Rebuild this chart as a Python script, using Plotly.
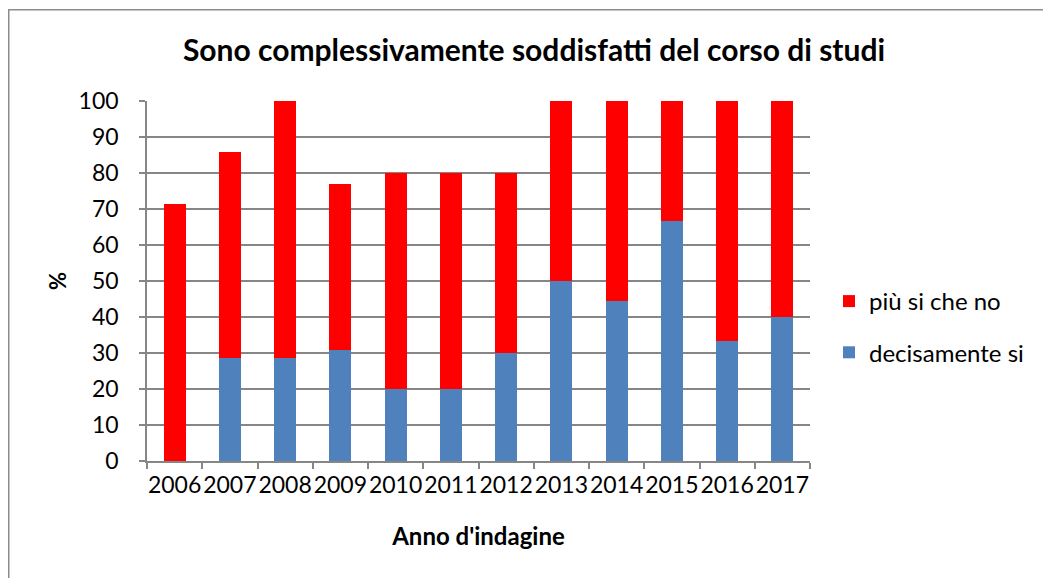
import plotly.graph_objects as go

# data
anni = ["2006", "2007", "2008", "2009", "2010", "2011", "2012",
        "2013", "2014", "2015", "2016", "2017"]
decisamente_si = [0, 28.6, 28.6, 30.8, 20, 20, 30, 50, 44.4, 66.7, 33.3, 40]
piu_si_che_no = [71.4, 57.1, 71.4, 46.2, 60, 60, 50, 50, 55.6, 33.3, 66.7, 60]

# page body has an 8px margin, so figure px = screen px - 8
OFF = 8
W, H = 1051 - OFF, 578 - OFF
L, R, T, B = 147 - OFF, 810 - OFF, 101 - OFF, 461 - OFF  # plot area

fig = go.Figure()
fig.add_trace(go.Bar(x=anni, y=decisamente_si, name="decisamente si",
                     legendgroup="b", legendrank=2,
                     marker=dict(color="#4F81BD", line=dict(width=0))))
fig.add_trace(go.Bar(x=anni, y=piu_si_che_no, name="più si che no",
                     legendgroup="a", legendrank=1,
                     marker=dict(color="#FF0000", line=dict(width=0))))


def px_x(p):
    return (p - OFF - L) / (R - L)


def px_y(p):
    return (B - (p - OFF)) / (B - T)


# outer chart border (only top and left visible in the reference)
fig.add_shape(type="rect", xref="paper", yref="paper",
              x0=px_x(8.75), x1=px_x(1100), y0=px_y(650), y1=px_y(9.75),
              line=dict(color="#8c8c8c", width=1.5), layer="below")

fig.update_layout(
    width=W, height=H,
    margin=dict(l=L, r=W - R, t=T, b=H - B, pad=0),
    barmode="stack", bargap=0.6,
    paper_bgcolor="white", plot_bgcolor="white",
    font=dict(family="Lato, 'Open Sans', sans-serif", size=23, color="black"),
    title=dict(text="<b>Sono complessivamente soddisfatti del corso di studi</b>",
               x=(534 - OFF) / W, xref="container", xanchor="center",
               y=1 - (50 - OFF) / H, yanchor="middle",
               font=dict(size=30)),
    showlegend=True,
    legend=dict(traceorder="grouped", tracegroupgap=17,
                x=px_x(829), xanchor="left",
                y=px_y(327), yanchor="middle", font=dict(size=24),
                bgcolor="rgba(0,0,0,0)"),
    xaxis=dict(title=dict(text="<b>Anno d'indagine</b>", font=dict(size=24), standoff=31),
               showline=True, linecolor="#868686", linewidth=1.5,
               ticks="outside", ticklen=6, tickcolor="#868686", tickwidth=1.5,
               tickson="boundaries", showgrid=False, tickangle=0,
               ticklabelstandoff=3),
    yaxis=dict(title=dict(text="<b>%</b>", font=dict(size=22), standoff=6),
               range=[0, 100], dtick=10, showline=True, linecolor="#868686",
               linewidth=1.5, ticks="outside", ticklen=6, tickcolor="#868686",
               tickwidth=1.5, gridcolor="#868686", gridwidth=1.5,
               zeroline=False, ticklabelstandoff=16),
)

fig.write_html("out.html")
